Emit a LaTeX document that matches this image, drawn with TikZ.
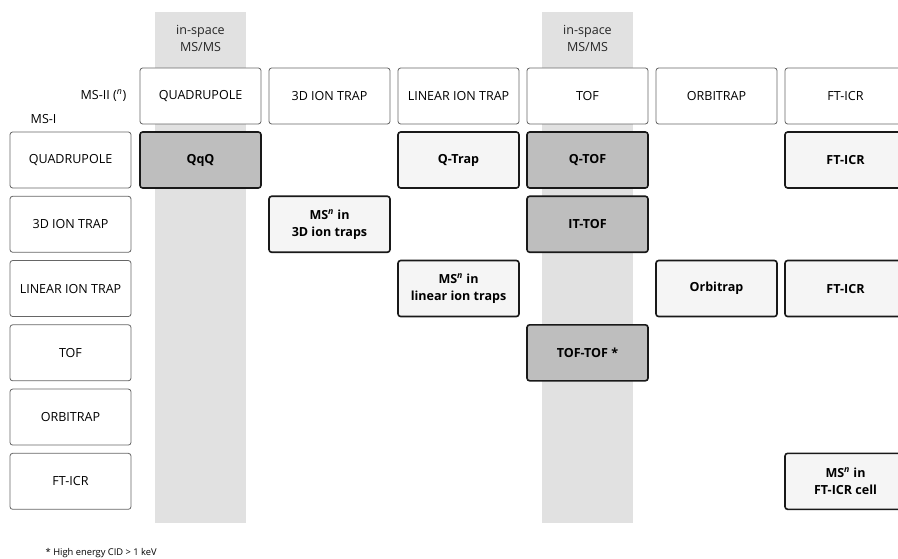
\documentclass[tikz,border=0pt]{standalone}
\usepackage{fontspec}
\setmainfont{Open Sans}
\usepackage{xcolor}
\usetikzlibrary{positioning,backgrounds}
\tikzset{font={\fontsize{9.4pt}{12.75pt}\selectfont}}
\definecolor{bandgray}{HTML}{E1E1E1}
\definecolor{darkcell}{HTML}{BEBEBE}
\definecolor{lightcell}{HTML}{F5F5F5}
\tikzset{
  box/.style={rectangle, rounded corners=2pt, minimum width=90.75pt, minimum height=42pt,
    inner sep=1pt, outer sep=0pt, align=center},
  head/.style={box, draw=black!60, line width=0.6pt, fill=white},
  spacebox/.style={box, draw=black!90, line width=1.2pt, fill=darkcell,
    font={\fontsize{9.4pt}{12.75pt}\selectfont\bfseries}},
  timebox/.style={spacebox, fill=lightcell},
  band/.style={fill=bandgray, minimum width=68.25pt, minimum height=383.25pt,
    inner sep=0pt, anchor=north},
  bandtext/.style={align=center, text=black!85},
}
\newcommand{\msn}{MS\textsuperscript{\itshape n}}

\begin{document}
\begin{tikzpicture}[x=0.75pt, y=-0.75pt, node distance=6.2pt and 6pt]
  \useasboundingbox (0,0) rectangle (898,559);
  \clip (0,0) rectangle (898,559);

  % MS-II columns
  \node[head] (cq) at (200.5,96) {QUADRUPOLE};
  \node[head, right=of cq]   (c3d)  {3D ION TRAP};
  \node[head, right=of c3d]  (clit) {LINEAR ION TRAP};
  \node[head, right=of clit] (ctof) {TOF};
  \node[head, right=of ctof] (corb) {ORBITRAP};
  \node[head, right=of corb] (cft)  {FT-ICR};

  % MS-I rows
  \node[head] (rq) at (70.5,160) {QUADRUPOLE};
  \node[head, below=of rq]   (r3d)  {3D ION TRAP};
  \node[head, below=of r3d]  (rlit) {LINEAR ION TRAP};
  \node[head, below=of rlit] (rtof) {TOF};
  \node[head, below=of rtof] (rorb) {ORBITRAP};
  \node[head, below=of rorb] (rft)  {FT-ICR};

  % in-space bands
  \begin{scope}[on background layer]
    \node[band] (bq)   at (cq |- 0,12) {};
    \node[band] (btof) at (ctof |- 0,12) {};
  \end{scope}
  \node[bandtext] (iq)   at (cq |- 0,38) {in-space\\MS/MS};
  \node[bandtext] (itof) at (ctof |- 0,38) {in-space\\MS/MS};

  % Combinations
  \node[spacebox] (qqq)    at (cq |- rq)     {QqQ};
  \node[timebox]  (qtrap)  at (clit |- rq)   {Q-Trap};
  \node[spacebox] (qtof)   at (ctof |- rq)   {Q-TOF};
  \node[timebox]  (qft)    at (cft |- rq)    {FT-ICR};
  \node[timebox]  (itms)   at (c3d |- r3d)   {\msn{} in\\3D ion traps};
  \node[spacebox] (ittof)  at (ctof |- r3d)  {IT-TOF};
  \node[timebox]  (litms)  at (clit |- rlit) {\msn{} in\\linear ion traps};
  \node[timebox]  (orbi)   at (corb |- rlit) {Orbitrap};
  \node[timebox]  (litft)  at (cft |- rlit)  {FT-ICR};
  \node[spacebox] (toftof) at (ctof |- rtof) {TOF-TOF *};
  \node[timebox]  (ftms)   at (cft |- rft)   {\msn{} in\\FT-ICR cell};

  % Axis labels
  \node[anchor=east] (ms2) at (131,96) {MS-II (\textsuperscript{\itshape n})};
  \node[anchor=west] (ms1) at (26,119) {MS-I};
  \node[anchor=west, font={\fontsize{7pt}{8pt}\selectfont}] (note) at (41,553)
    {* High energy CID > 1 keV};
\end{tikzpicture}
\end{document}
